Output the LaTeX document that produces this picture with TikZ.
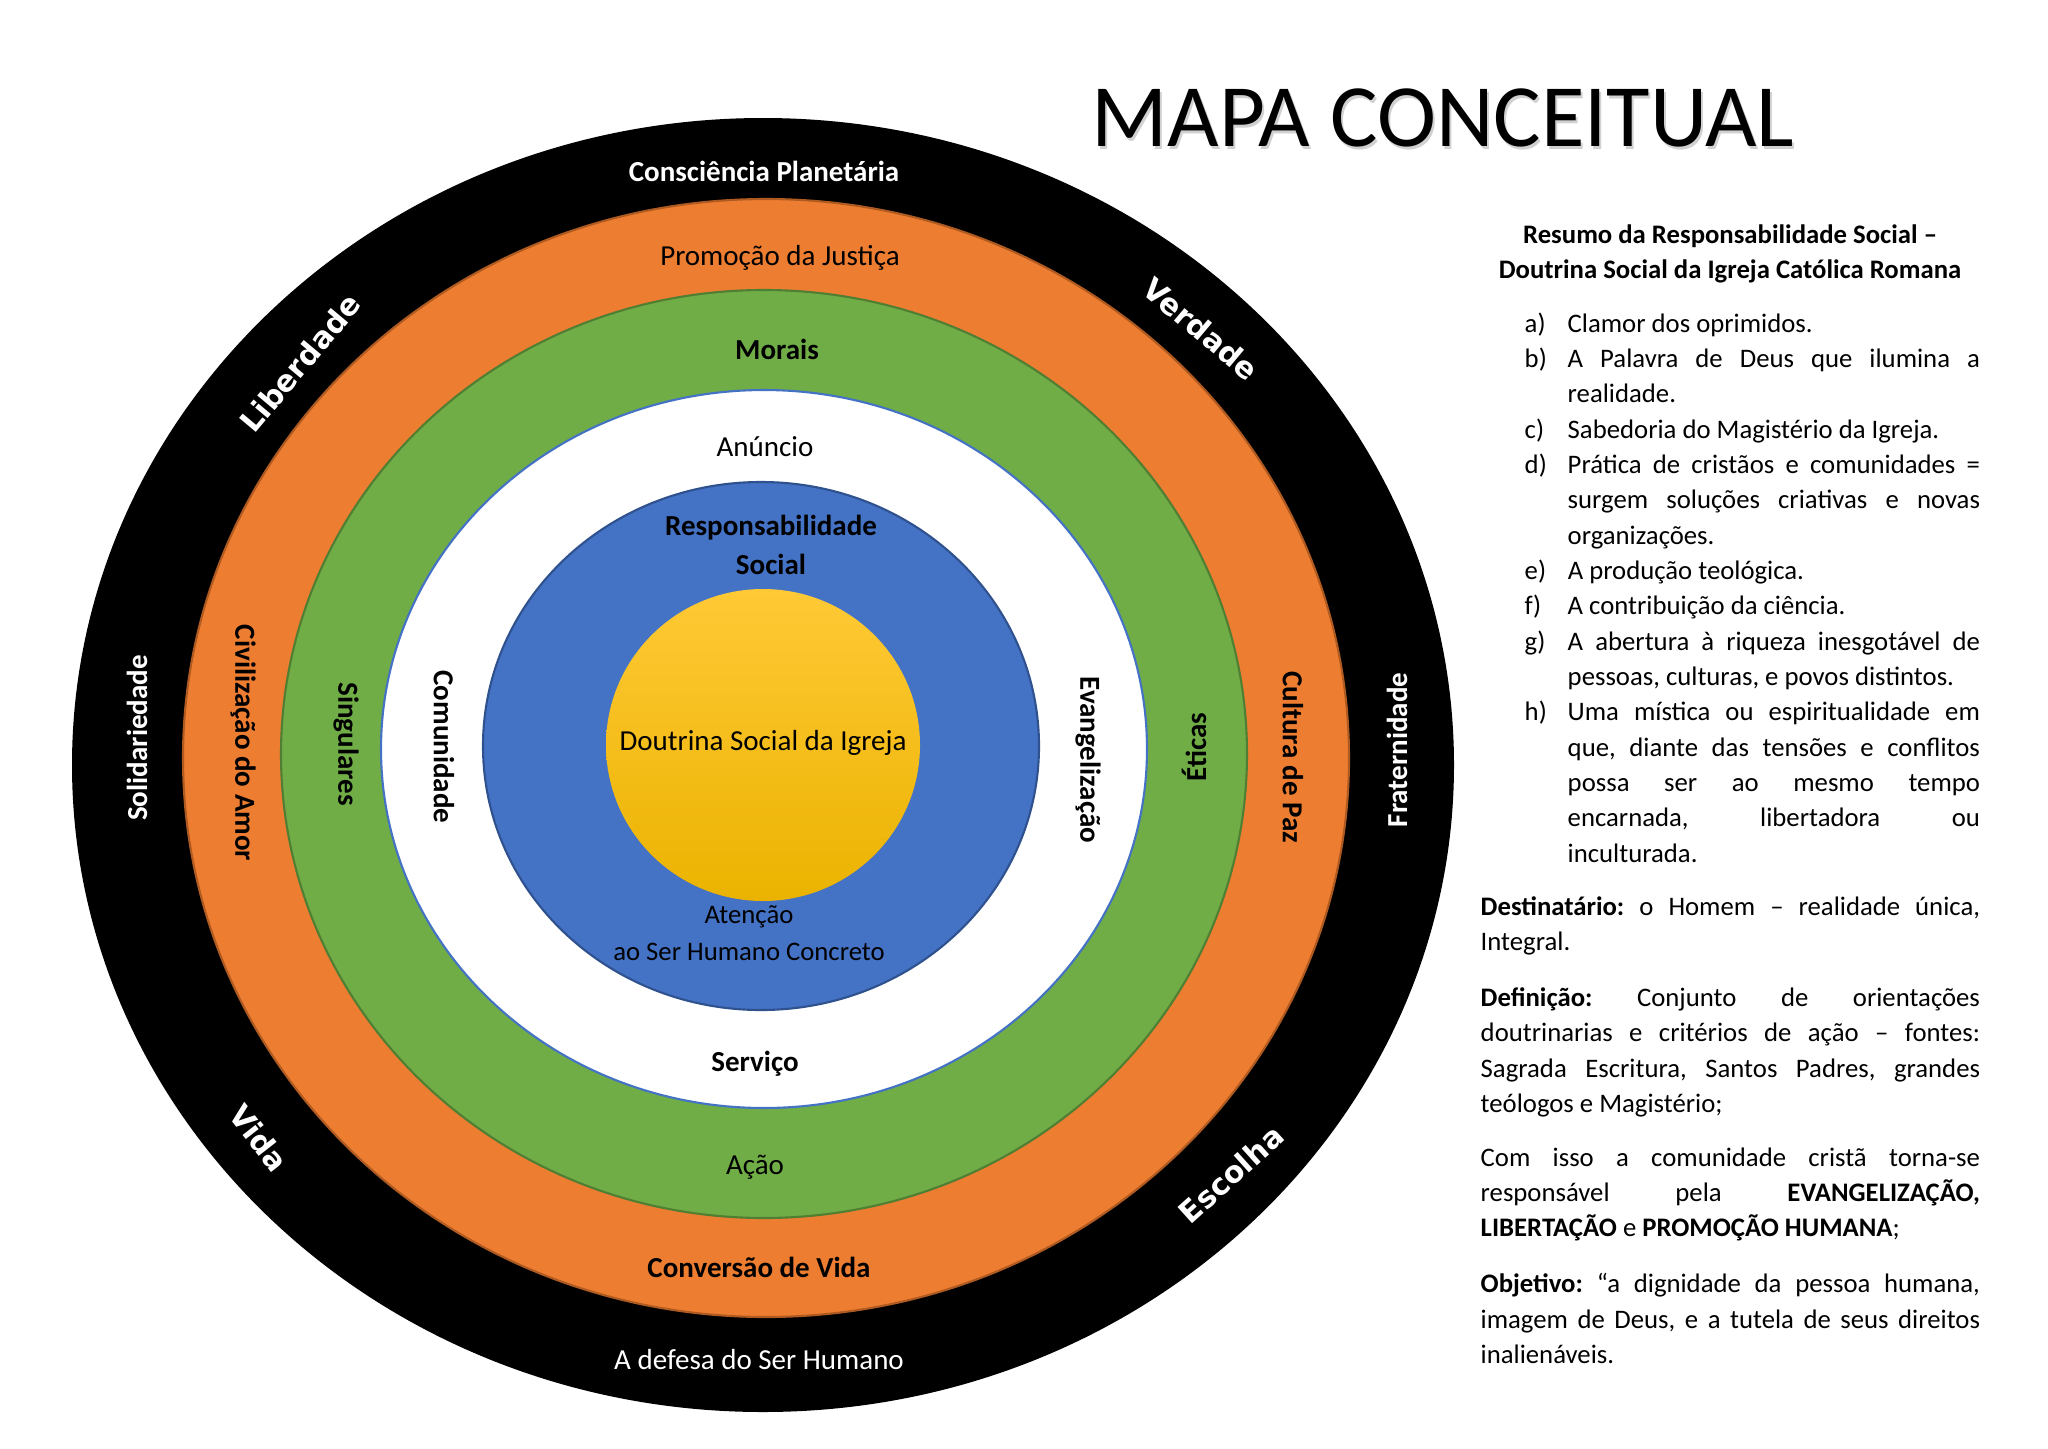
\documentclass[tikz,border=0pt]{standalone}
\usepackage{fontspec}
\setmainfont{Carlito}
\newfontfamily\verdfont{DejaVu Sans}
\usepackage{xcolor}
\definecolor{laranja}{HTML}{ED7D31}
\definecolor{laranjaborda}{HTML}{AE5A21}
\definecolor{verde}{HTML}{70AD47}
\definecolor{verdeborda}{HTML}{507E32}
\definecolor{azul}{HTML}{4472C4}
\definecolor{azulborda}{HTML}{2F528F}
\definecolor{amareloclaro}{HTML}{FFC936}
\definecolor{amarelo}{HTML}{FFC000}
\definecolor{amareloescuro}{HTML}{EBB300}
\usepackage{tikz}
\frenchspacing
\hyphenpenalty=10000
\hbadness=10000
\tolerance=9999
\newcommand{\alinea}[1]{\par\noindent\hangindent=0.43cm\hangafter=1\makebox[0.43cm][l]{#1}}

\begin{document}
\begin{tikzpicture}[x=0.01cm, y=-0.01cm,
    anel/.style={line width=0.6pt},
    rotulo/.style={font=\fontsize{8.25}{10.5}\selectfont, inner sep=0pt},
    rotuloforte/.style={rotulo, font=\fontsize{8.25}{10.5}\selectfont\bfseries},
    diagonal/.style={font=\verdfont\bfseries\fontsize{8.5}{10}\selectfont, text=white, inner sep=0pt},
    titulo/.style={font=\fontsize{25.3}{30}\selectfont, inner sep=0pt},
    lado/.style={font=\fontsize{7.6}{10.05}\selectfont, inner sep=0pt, align=justify}
]
  \useasboundingbox (0,0) rectangle (2048,1448);

  % Anéis
  \fill[black] (763,765) ellipse (691 and 647);
  \filldraw[fill=laranja, draw=laranjaborda, anel] (766,758) ellipse (583 and 559);
  \filldraw[fill=verde, draw=verdeborda, anel] (764,754) ellipse (483 and 464);
  \filldraw[fill=white, draw=azul, anel] (764,749) ellipse (383 and 359);
  \filldraw[fill=azul, draw=azulborda, anel] (761,746) ellipse (278 and 264);
  \shade[top color=amareloclaro, middle color=amarelo, bottom color=amareloescuro] (763,745) ellipse (157 and 156);

  % Rótulos horizontais
  \node[rotuloforte, text=white] (consciencia) at (764,171) {Consciência Planetária};
  \node[rotulo] (promocao) at (780,258) {Promoção da Justiça};
  \node[rotuloforte] (morais) at (777,349) {Morais};
  \node[rotulo] (anuncio) at (765,447) {Anúncio};
  \node[rotuloforte, align=center] (responsabilidade) at (771,545) {Responsabilidade\\[0.8pt]Social};
  \node[rotulo] (doutrina) at (763,743) {Doutrina Social da Igreja};
  \node[rotulo, font=\fontsize{7.6}{10.5}\selectfont, align=center] (atencao) at (749,933) {Atenção\\ao Ser Humano Concreto};
  \node[rotuloforte] (servico) at (755,1064) {Serviço};
  \node[rotulo] (acao) at (755,1167) {Ação};
  \node[rotuloforte] (conversao) at (759,1267) {Conversão de Vida};
  \node[rotulo, text=white] (defesa) at (759,1360) {A defesa do Ser Humano};

  % Rótulos verticais
  \node[rotuloforte, text=white, rotate=90] (solidariedade) at (137,738) {Solidariedade};
  \node[rotuloforte, rotate=-90] (civilizacao) at (243,743) {Civilização do Amor};
  \node[rotuloforte, rotate=-90] (singulares) at (346,744) {Singulares};
  \node[rotuloforte, rotate=-90] (comunidade) at (444,747) {Comunidade};
  \node[rotuloforte, rotate=-90] (evangelizacao) at (1088,760) {Evangelização};
  \node[rotuloforte, rotate=90] (eticas) at (1194,747) {Éticas};
  \node[rotuloforte, rotate=-90] (cultura) at (1293,757) {Cultura de Paz};
  \node[rotuloforte, text=white, rotate=90] (fraternidade) at (1397,750) {Fraternidade};

  % Rótulos diagonais
  \node[diagonal, rotate=50] (liberdade) at (300,363) {Liberdade};
  \node[diagonal, rotate=-40] (verdade) at (1201,329) {Verdade};
  \node[diagonal, rotate=-52] (vida) at (259,1138) {Vida};
  \node[diagonal, rotate=42] (escolha) at (1231,1174) {Escolha};

  % Título
  \node[titulo, text=black!18] (sombra) at (1445,121) {MAPA CONCEITUAL};
  \node[titulo] (mapa) at (1443,118) {MAPA CONCEITUAL};

  % Resumo
  \node[lado, font=\fontsize{7.6}{10.05}\selectfont\bfseries, align=center] (resumo) at (1730,254)
    {Resumo da Responsabilidade Social –\\Doutrina Social da Igreja Católica Romana};
  \node[lado, text width=4.55cm, anchor=north west] (fontes) at (1524,296) {%
    \alinea{a)}Clamor dos oprimidos.
    \alinea{b)}A Palavra de Deus que ilumina a\linebreak realidade.
    \alinea{c)}Sabedoria do Magistério da Igreja.
    \alinea{d)}Prática de cristãos e comunidades =\linebreak surgem soluções criativas e novas\linebreak organizações.
    \alinea{e)}A produção teológica.
    \alinea{f)}A contribuição da ciência.
    \alinea{g)}A abertura à riqueza inesgotável de\linebreak pessoas, culturas, e povos distintos.
    \alinea{h)}Uma mística ou espiritualidade em\linebreak que, diante das tensões e conflitos\linebreak possa ser ao mesmo tempo\linebreak encarnada, libertadora ou\linebreak inculturada.\par};
  \node[lado, text width=4.99cm, anchor=north west] (destinatario) at (1480,896)
    {\textbf{Destinatário:} o Homem – realidade única,\linebreak Integral.\par};
  \node[lado, text width=4.99cm, anchor=north west] (definicao) at (1480,987)
    {\textbf{Definição:} Conjunto de orientações\linebreak doutrinarias e critérios de ação – fontes:\linebreak Sagrada Escritura, Santos Padres, grandes\linebreak teólogos e Magistério;\par};
  \node[lado, text width=4.99cm, anchor=north west] (comisso) at (1480,1147)
    {Com isso a comunidade cristã torna-se\linebreak responsável pela \textbf{EVANGELIZAÇÃO,}\linebreak \textbf{LIBERTAÇÃO} e \textbf{PROMOÇÃO HUMANA};\par};
  \node[lado, text width=4.99cm, anchor=north west] (objetivo) at (1480,1273)
    {\textbf{Objetivo:} “a dignidade da pessoa humana,\linebreak imagem de Deus, e a tutela de seus direitos\linebreak inalienáveis.\par};

\end{tikzpicture}
\end{document}
